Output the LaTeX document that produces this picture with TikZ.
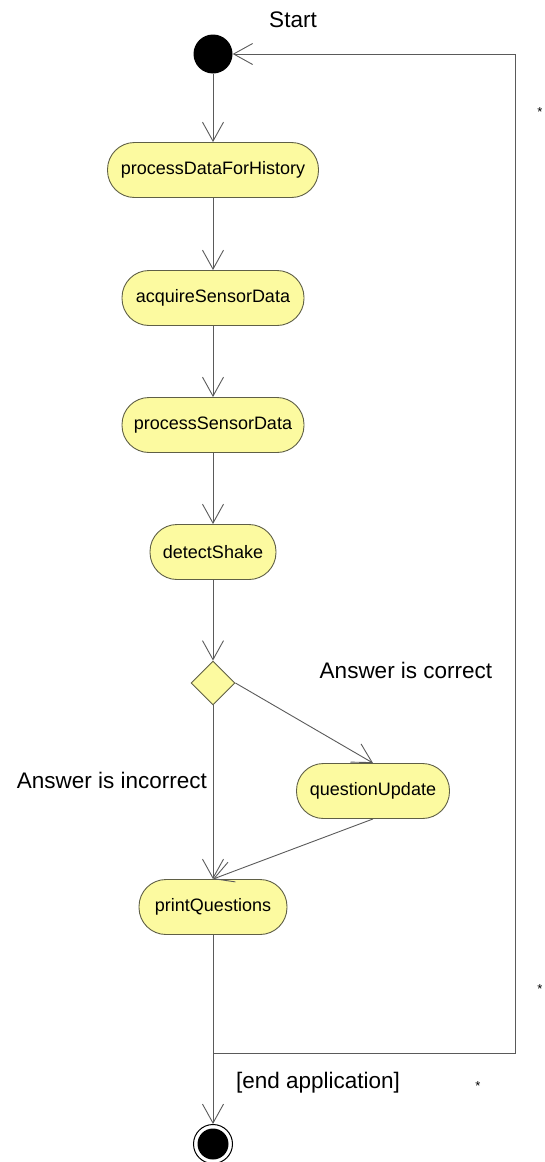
\documentclass[tikz,border=0pt]{standalone}
\usepackage{fontspec}
\setmainfont{Liberation Sans}
\usetikzlibrary{shapes.geometric,arrows.meta}
\definecolor{actfill}{RGB}{252,250,160}
\definecolor{actline}{RGB}{95,95,70}
\definecolor{flowline}{RGB}{90,90,90}
\tikzset{
  action/.style={rectangle,rounded corners=27pt,draw=actline,fill=actfill,line width=0.9pt,
    minimum height=55pt,inner xsep=0pt,font=\fontsize{18}{21}\selectfont},
  decision/.style={diamond,draw=actline,fill=actfill,line width=0.9pt,
    minimum width=44pt,minimum height=44pt,inner sep=0pt},
  flow/.style={draw=flowline,line width=0.9pt,-{Straight Barb[length=19pt,width=21pt]}},
  guard/.style={font=\fontsize{22.5}{26}\selectfont},
  star/.style={font=\fontsize{13}{15}\selectfont}
}
\begin{document}
\begin{tikzpicture}[x=1pt,y=-1pt]
\useasboundingbox (0,0) rectangle (544,1162);
% start and end states
\node[circle,fill=black,minimum size=39pt,inner sep=0pt] (start) at (213,54) {};
\node[guard] (startlbl) at (293,20) {Start};
\node[circle,draw=black,line width=1pt,minimum size=39pt,inner sep=0pt] (final) at (213,1144) {};
\node[circle,fill=black,minimum size=31pt,inner sep=0pt] at (final) {};
% activities
\node[action,minimum width=211pt] (history) at (213,170) {processDataForHistory};
\node[action,minimum width=182pt] (acquire) at (213,298) {acquireSensorData};
\node[action,minimum width=182pt] (process) at (213,425) {processSensorData};
\node[action,minimum width=126pt] (shake) at (213,552) {detectShake};
\node[decision] (check) at (213,683) {};
\node[action,minimum width=153pt] (update) at (373,791) {questionUpdate};
\node[action,minimum width=148pt] (print) at (213,907) {printQuestions};
\coordinate (split) at (213,1053);
\coordinate (corner1) at (515,1053);
\coordinate (corner2) at (515,54);
% flows
\draw[flow] (start) -- (history);
\draw[flow] (history) -- (acquire);
\draw[flow] (acquire) -- (process);
\draw[flow] (process) -- (shake);
\draw[flow] (shake) -- (check);
\draw[flow] (check.east) -- (update.north);
\draw[flow] (check.south) -- (print.north);
\draw[flow] (update.south) -- (print.north);
\draw[flow] (print) -- (final);
\draw[flow] (split) -- (corner1) -- (corner2) -- (start); %loop back
% guards
\node[guard] (correct) at (406,670) {Answer is correct};
\node[guard] (incorrect) at (112,780) {Answer is incorrect};
\node[guard] (endapp) at (318,1083) {[end application]};
\node[star] (star1) at (540,112) {*};
\node[star] (star2) at (540,989) {*};
\node[star] (star3) at (478,1086) {*};
\end{tikzpicture}
\end{document}
